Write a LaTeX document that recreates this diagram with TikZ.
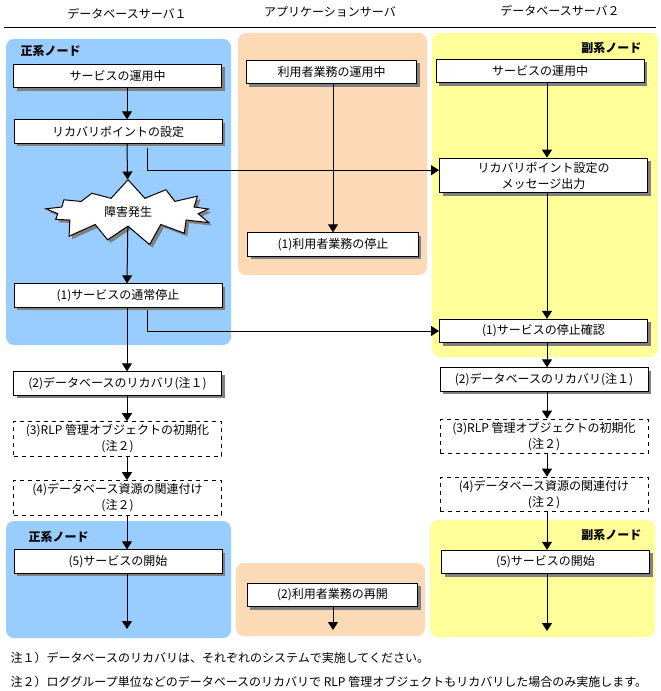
\documentclass[tikz,border=0pt]{standalone}
\usepackage{fontspec}
\setmainfont{Noto Sans CJK JP}
\usepackage{tikz}
\usetikzlibrary{arrows.meta}
\usetikzlibrary{shapes.symbols}
\usetikzlibrary{shadows}
\definecolor{mainblue}{HTML}{99CCFF}
\definecolor{subyellow}{HTML}{FFFF99}
\definecolor{apporange}{HTML}{FDDAB6}
\definecolor{sgray}{HTML}{808080}
\tikzstyle{proc}=[draw, fill=white, line width=0.75pt, minimum height=17.5pt, align=center, inner sep=1pt, drop shadow={shadow xshift=2.25pt, shadow yshift=-2.25pt, fill=sgray, opacity=1}]
\tikzstyle{optproc}=[draw, dashed, fill=white, line width=0.75pt, minimum height=26pt, align=center, inner sep=1pt]
\tikzstyle{panel}=[rounded corners=6pt]
\tikzset{every node/.style={font=\fontsize{9pt}{12pt}\selectfont}}

\begin{document}
\begin{tikzpicture}[x=0.75pt, y=-0.75pt,
                    flow/.style={line width=0.75pt, -{Triangle[length=6pt, width=7.5pt]}},
                    tag/.style={font=\fontsize{9pt}{12pt}\selectfont\bfseries},
                    wide/.style={minimum width=156pt},
                    narrow/.style={minimum width=128pt}]
    \useasboundingbox (0,0) rectangle (660,691);

    % headers
    \node (h1) at (127,14) {データベースサーバ１};
    \node (h2) at (330,12) {アプリケーションサーバ};
    \node (h3) at (560,11) {データベースサーバ２};
    \draw[line width=0.75pt] (4,28) -- (656,28);

    % panels
    \fill[mainblue, panel] (6,39) rectangle (231,345);
    \fill[apporange, panel] (238,33) rectangle (427,275);
    \fill[subyellow, panel] (432,33) rectangle (658,357);
    \fill[mainblue, panel] (6,521) rectangle (231,638);
    \fill[apporange, panel] (236,563) rectangle (425,636);
    \fill[subyellow, panel] (430,520) rectangle (655,637);
    \node[tag, anchor=west] (m1) at (16,51) {正系ノード};
    \node[tag, anchor=east] (s1) at (646,48) {副系ノード};
    \node[tag, anchor=west] (m2) at (24,537) {正系ノード};
    \node[tag, anchor=east] (s2) at (646,535) {副系ノード};

    % database server 1
    \node[proc, wide] (L0) at (117.5,76) {サービスの運用中};
    \node[proc, wide] (L1) at (118,131.5) {リカバリポイントの設定};
    \node[starburst, draw, fill=white, line width=0.75pt, starburst points=13,
          starburst point height=15pt, random starburst=7,
          minimum width=136pt, minimum height=40pt,
          drop shadow={shadow xshift=2.25pt, shadow yshift=-2.25pt, fill=sgray, opacity=1}]
          (fault) at (128,212) {障害発生};
    \node[proc, wide] (L2) at (118,295.5) {(1)サービスの通常停止};
    \node[proc, wide] (L3) at (117.5,383.5) {(2)データベースのリカバリ(注１)};
    \node[optproc, wide] (L4) at (117.5,439) {(3)RLP 管理オブジェクトの初期化\\(注２)};
    \node[optproc, wide] (L5) at (117.5,498) {(4)データベース資源の関連付け\\(注２)};
    \node[proc, wide] (L6) at (118,561.5) {(5)サービスの開始};
    \coordinate (lx) at (127,0);
    \coordinate (lend) at (127,629);

    % application server
    \node[proc, narrow] (A0) at (331.5,72) {利用者業務の運用中};
    \node[proc, narrow] (A1) at (333,244.5) {(1)利用者業務の停止};
    \node[proc, narrow] (A2) at (332.5,595) {(2)利用者業務の再開};
    \coordinate (ax) at (333,0);
    \coordinate (aend) at (333,630);

    % database server 2
    \node[proc, wide] (R0) at (540,71) {サービスの運用中};
    \node[proc, wide, minimum height=26pt] (R1) at (543.5,175.5) {リカバリポイント設定の\\メッセージ出力};
    \node[proc, wide] (R2) at (543.5,331) {(1)サービスの停止確認};
    \node[proc, wide] (R3) at (544,379.5) {(2)データベースのリカバリ(注１)};
    \node[optproc, wide] (R4) at (544,436.5) {(3)RLP 管理オブジェクトの初期化\\(注２)};
    \node[optproc, wide] (R5) at (544,494.5) {(4)データベース資源の関連付け\\(注２)};
    \node[proc, wide] (R6) at (545.5,562) {(5)サービスの開始};
    \coordinate (rx) at (547,0);
    \coordinate (rend) at (547,631);

    % notes
    \node[anchor=west] (n1) at (6,658) {注１）データベースのリカバリは、それぞれのシステムで実施してください。};
    \node[anchor=west] (n2) at (6,682) {注２）ロググループ単位などのデータベースのリカバリで RLP 管理オブジェクトもリカバリした場合のみ実施します。};

    % flow on server 1
    \draw[flow] (L0.south -| lx) -- (L1.north -| lx);
    \draw[flow] (L1.south -| lx) -- (fault);
    \draw[flow] (fault) -- (L2.north -| lx);
    \draw[flow] (L2.south -| lx) -- (L3.north -| lx);
    \draw[flow] (L3.south -| lx) -- (L4.north -| lx);
    \draw[flow] (L4.south -| lx) -- (L5.north -| lx);
    \draw[flow] (L5.south -| lx) -- (L6.north -| lx);
    \draw[flow] (L6.south -| lx) -- (lend);

    % flow on application server
    \draw[flow] (A0.south -| ax) -- (A1.north -| ax);
    \draw[flow] (A2.south -| ax) -- (aend);

    % flow on server 2
    \draw[flow] (R0.south -| rx) -- (R1.north -| rx);
    \draw[flow] (R1.south -| rx) -- (R2.north -| rx);
    \draw[flow] (R2.south -| rx) -- (R3.north -| rx);
    \draw[flow] (R3.south -| rx) -- (R4.north -| rx);
    \draw[flow] (R4.south -| rx) -- (R5.north -| rx);
    \draw[flow] (R5.south -| rx) -- (R6.north -| rx);
    \draw[flow] (R6.south -| rx) -- (rend);

    % messages from server 1 to server 2
    \coordinate (rpout) at (147,148);
    \coordinate (stopout) at (147,310);
    \draw[flow] (rpout) |- ([yshift=4pt]R1.west);
    \draw[flow] (stopout) |- (R2.west);
\end{tikzpicture}
\end{document}
